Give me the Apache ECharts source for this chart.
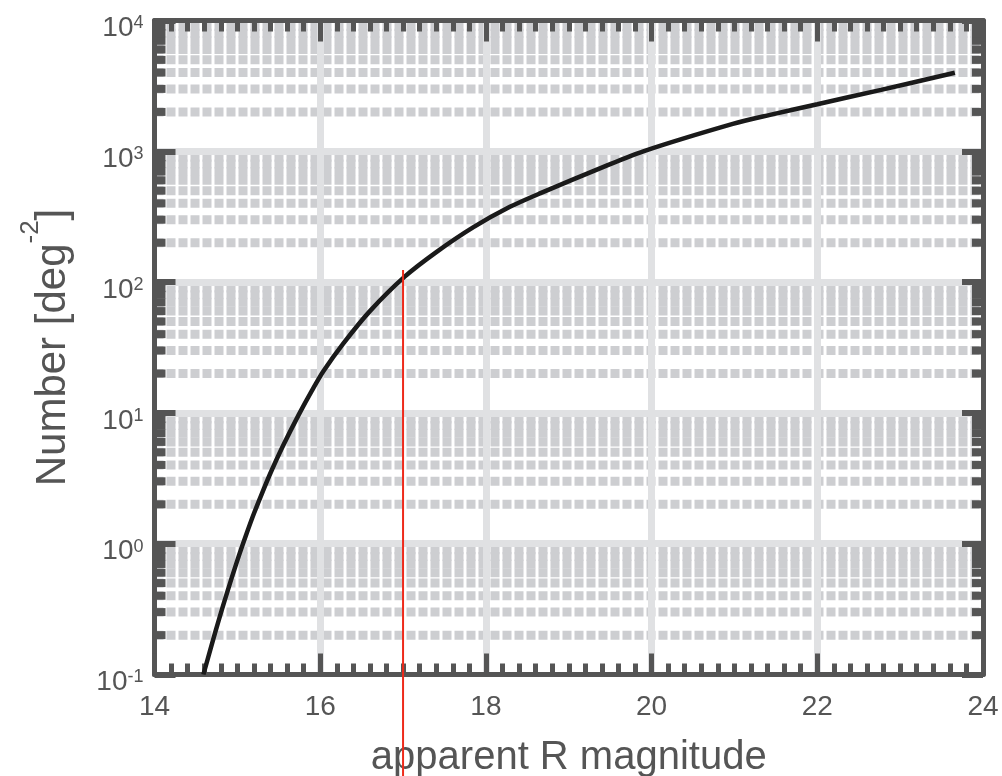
<!DOCTYPE html>
<html><head><meta charset="utf-8">
<script src="https://cdn.jsdelivr.net/npm/echarts@6/dist/echarts.min.js"></script>
<style>html,body{margin:0;padding:0;background:#fff}#c{width:1002px;height:776px}</style>
</head><body><div id="c"></div>
<script>
// ---- data ----
const magnitudes = [14.59,14.73,14.85,15.00,15.10,15.20,15.30,15.40,15.55,15.74,15.90,16.04,16.28,16.60,17.02,17.41,17.85,18.29,18.66,19.42,19.90,20.98,21.43,22.00,22.77,23.66];
const counts     = [0.1,0.207,0.374,0.746,1.14,1.70,2.45,3.47,5.58,9.66,14.8,20.9,34,60,110,171,263,376,479,760,1000,1620,1900,2290,2950,3990];
const markerMag   = [17.0, 17.0];
const markerCount = [124, 0.01];
const xTickLabels = ['14','16','18','20','22','24'];
const yTickExponents = ['-1','0','1','2','3','4'];

const X_MIN = 14, X_MAX = 24, X_STEP = 2;
const Y_MIN = 0.1, Y_MAX = 10000;
const FONT = "'Liberation Sans', Arial, Helvetica, sans-serif";
const INK = '#555555';

// minor log grid positions (2..9 x 10^k)
const yMinor = [];
for (let k = -1; k < 4; k++) for (let m = 2; m <= 9; m++) yMinor.push(Number((m * Math.pow(10, k)).toPrecision(3)));

const chart = echarts.init(document.getElementById('c'), null, {renderer: 'canvas'});

function frameX(pos, labels) {
  return {
    type: 'value', min: X_MIN, max: X_MAX, interval: X_STEP, position: pos, z: 5,
    axisLine: {show: true, onZero: false, lineStyle: {color: INK, width: 5}},
    axisTick: {show: true, inside: true, length: 21, lineStyle: {color: INK, width: 5}},
    minorTick: {show: true, splitNumber: 10, length: 11, lineStyle: {color: INK, width: 5}},
    splitLine: {show: false},
    axisLabel: {show: labels, fontSize: 28, color: INK, margin: 19, fontFamily: FONT,
      formatter: v => xTickLabels[Math.round((v - X_MIN) / X_STEP)]},
    name: labels ? 'apparent R magnitude' : '', nameLocation: 'middle', nameGap: 63,
    nameTextStyle: {fontSize: 40, color: INK, fontFamily: FONT}
  };
}
function frameY(pos, labels) {
  return {
    type: 'log', logBase: 10, min: Y_MIN, max: Y_MAX, position: pos, z: 5,
    axisLine: {show: true, onZero: false, lineStyle: {color: INK, width: 5}},
    axisTick: {show: true, inside: true, length: 21, lineStyle: {color: INK, width: 6}},
    minorTick: {show: false},
    splitLine: {show: false},
    axisLabel: {show: labels, margin: 11, padding: [16, 0, 0, 0],
      formatter: v => '{b|10}{s|' + yTickExponents[Math.round(Math.log10(v)) + 1] + '}',
      rich: {
        b: {fontSize: 28, lineHeight: 28, color: INK, fontFamily: FONT},
        s: {fontSize: 18, lineHeight: 13, verticalAlign: 'top', color: INK, fontFamily: FONT}
      }},
    name: labels ? '{a|Number [deg}{s|-2}{a|]}' : '', nameLocation: 'middle', nameGap: 65, nameRotate: 90,
    nameTextStyle: {
      rich: {
        a: {fontSize: 42, lineHeight: 72, color: INK, fontFamily: FONT},
        s: {fontSize: 26, lineHeight: 23, verticalAlign: 'top', color: INK, fontFamily: FONT}
      }
    }
  };
}

const option = {
  animation: false,
  backgroundColor: '#ffffff',
  textStyle: {fontFamily: FONT},
  grid: {left: 154.5, right: 19, top: 20.5, bottom: 101.5, containLabel: false, outerBoundsMode: 'none'},
  xAxis: [
    frameX('bottom', true),
    frameX('top', false),
    {type: 'value', min: X_MIN, max: X_MAX, interval: X_STEP, z: 2,
     axisLine: {show: false}, axisTick: {show: false}, axisLabel: {show: false},
     splitLine: {show: true, showMinLine: false, showMaxLine: false, lineStyle: {color: '#e0e1e3', width: 7}}}
  ],
  yAxis: [
    frameY('left', true),
    frameY('right', false),
    {type: 'log', logBase: 10, min: Y_MIN, max: Y_MAX, z: 2,
     axisLine: {show: false}, axisTick: {show: false}, axisLabel: {show: false},
     splitLine: {show: true, showMinLine: false, showMaxLine: false, lineStyle: {color: '#e0e1e3', width: 7}}}
  ],
  series: [
    { // minor horizontal grid lines
      type: 'custom', xAxisIndex: 0, yAxisIndex: 0, z: 1, silent: true,
      data: yMinor.map(v => [X_MIN, v]),
      renderItem: (params, api) => {
        const cs = params.coordSys;
        const y = api.coord([api.value(0), api.value(1)])[1];
        return {type: 'line', shape: {x1: cs.x, y1: y, x2: cs.x + cs.width, y2: y},
                style: {stroke: '#cdced1', lineWidth: 9, lineDash: [9, 3], fill: null}};
      }
    },
    { // minor ticks on left and right frames
      type: 'custom', xAxisIndex: 0, yAxisIndex: 0, z: 5, silent: true,
      data: yMinor.map(v => [X_MIN, v]),
      renderItem: (params, api) => {
        const cs = params.coordSys;
        const y = api.coord([api.value(0), api.value(1)])[1];
        return {type: 'group', children: [
          {type: 'line', shape: {x1: cs.x, y1: y, x2: cs.x + 11, y2: y}, style: {stroke: INK, lineWidth: 8}},
          {type: 'line', shape: {x1: cs.x + cs.width - 11, y1: y, x2: cs.x + cs.width, y2: y}, style: {stroke: INK, lineWidth: 8}}
        ]};
      }
    },
    {
      type: 'line', xAxisIndex: 0, yAxisIndex: 0, z: 6,
      data: magnitudes.map((m, i) => [m, counts[i]]),
      symbol: 'none', smooth: 0.3,
      lineStyle: {color: '#1a1a1a', width: 4.5}
    },
    {
      type: 'line', xAxisIndex: 0, yAxisIndex: 0, z: 7, clip: false,
      data: markerMag.map((m, i) => [m, markerCount[i]]),
      symbol: 'none',
      lineStyle: {color: '#ee2a1b', width: 2}
    }
  ]
};
chart.setOption(option);
</script>
</body></html>
